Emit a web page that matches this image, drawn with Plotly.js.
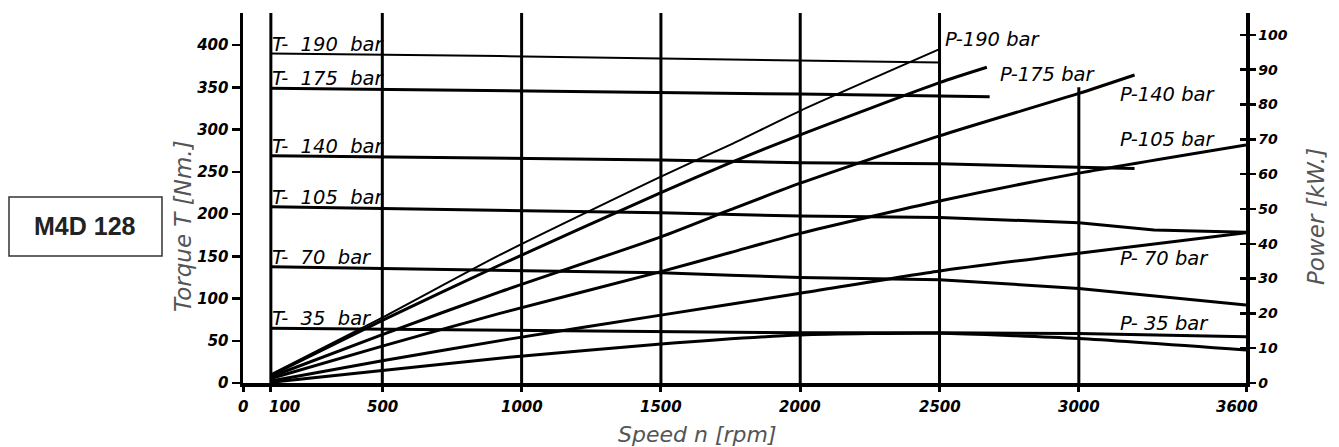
<!DOCTYPE html>
<html>
<head>
<meta charset="utf-8">
<script src="https://cdn.plot.ly/plotly-3.0.1.min.js"></script>
<style>html,body{margin:0;padding:0;background:#fff;}#chart{width:1339px;height:447px;}</style>
</head>
<body>
<div id="chart"></div>
<script>
// ---------- data ----------
// Torque curves (left axis, Nm) vs speed (rpm)
const rpmT190 = [100, 922, 1500, 2000, 2500];
const torque190 = [390, 387, 384, 382, 379.5];
const rpmT175 = [100, 922, 1500, 2000, 2500, 2680];
const torque175 = [349, 346, 344.4, 342, 339.6, 338.8];
const rpmT140 = [100, 922, 1500, 2000, 2500, 3000, 3200];
const torque140 = [269, 266, 264, 260.7, 259.5, 255.3, 254];
const rpmT105 = [100, 922, 1500, 2000, 2500, 3000, 3270, 3600];
const torque105 = [208.6, 204, 201.6, 197.6, 196, 189.7, 181, 178.5];
const rpmT70 = [100, 922, 1500, 1750, 2000, 2500, 3000, 3600];
const torque70 = [137.6, 133, 130.5, 127.5, 125, 122.3, 112, 92.3];
const rpmT35 = [100, 922, 1500, 2000, 2500, 3000, 3600];
const torque35 = [64.7, 62.7, 60.7, 59.5, 59.5, 58.5, 54.8];

// Power curves (right axis, kW) vs speed (rpm)
const rpmP190 = [100, 500, 922, 1500, 1750, 2000, 2500];
const power190 = [2.5, 18.8, 36.8, 59.3, 68.5, 78.2, 95.9];
const rpmP175 = [100, 500, 922, 1500, 1750, 2000, 2500, 2670];
const power175 = [2.2, 18, 33.9, 54.7, 63.3, 71.3, 86.3, 90.7];
const rpmP140 = [100, 500, 922, 1500, 1750, 2000, 2500, 3000, 3200];
const power140 = [1.8, 13.9, 26.2, 42, 49.8, 57.4, 71, 83.2, 88.5];
const rpmP105 = [100, 500, 922, 1500, 1750, 2000, 2500, 3000, 3600];
const power105 = [1.3, 10.6, 20, 32, 37.5, 43, 52.3, 60.3, 68.4];
const rpmP70 = [100, 500, 955, 1500, 2000, 2500, 3000, 3600];
const power70 = [0.6, 6.4, 12.6, 19.5, 25.8, 32.2, 37.3, 43.2];
const rpmP35 = [100, 500, 955, 1500, 2000, 2500, 3000, 3600];
const power35 = [0.2, 3.6, 7.4, 11.2, 13.8, 14.3, 12.8, 9.5];

// Axis ticks
const speedTicks = [0, 100, 500, 1000, 1500, 2000, 2500, 3000, 3600];
const speedTickText = ['0', '100', '500', '1000', '1500', '2000', '2500', '3000', '3600'];
const torqueTicks = [0, 50, 100, 150, 200, 250, 300, 350, 400];
const powerTicks = [0, 10, 20, 30, 40, 50, 60, 70, 80, 90, 100];
const gridSpeeds = [100, 500, 1000, 1500, 2000, 2500];
const partialGridSpeed = 3000;
const partialGridTop = 85; // kW

// Labels
const torqueLabels = ['T-\u00a0 190\u00a0 bar', 'T-\u00a0 175\u00a0 bar', 'T-\u00a0 140\u00a0 bar', 'T-\u00a0 105\u00a0 bar', 'T-\u00a0 70\u00a0 bar', 'T-\u00a0 35\u00a0 bar'];
const powerLabels = ['P-190 bar', 'P-175 bar', 'P-140 bar', 'P-105 bar', 'P-\u00a070 bar', 'P-\u00a035 bar'];
const powerLabelRpm = [2512, 2710, 3141, 3141, 3141, 3141];
const powerLabelKw = [98.6, 88.5, 82.8, 70.1, 35.8, 17.2];

// ---------- traces ----------
const torqueSeries = [[rpmT190, torque190, 2], [rpmT175, torque175, 3], [rpmT140, torque140, 3], [rpmT105, torque105, 3], [rpmT70, torque70, 3], [rpmT35, torque35, 3]];
const powerSeries = [[rpmP190, power190, 2], [rpmP175, power175, 3], [rpmP140, power140, 3], [rpmP105, power105, 3], [rpmP70, power70, 3], [rpmP35, power35, 3]];

const traces = [];
torqueSeries.forEach((s, i) => {
  traces.push({x: s[0], y: s[1], type: 'scatter', mode: 'lines', yaxis: 'y', name: torqueLabels[i],
    line: {color: '#000', width: s[2]}, hoverinfo: 'x+y'});
});
powerSeries.forEach((s, i) => {
  traces.push({x: s[0], y: s[1], type: 'scatter', mode: 'lines', yaxis: 'y2', name: powerLabels[i],
    line: {color: '#000', width: s[2], shape: 'spline', smoothing: 0.6}, hoverinfo: 'x+y'});
});
// invisible trace so the inner half of the right-axis ticks is drawn
traces.push({x: [0], y: [0], yaxis: 'y3', mode: 'markers', marker: {opacity: 0}, hoverinfo: 'skip', showlegend: false});

// ---------- layout ----------
const L = 243, R = 1246, T = 13, B = 383;
const px2paperX = p => (p - L) / (R - L);
const px2paperY = p => (B - p) / (B - T);

const tickFontL = {family: 'DejaVu Sans', size: 15, color: '#000', weight: 'bold', style: 'italic'};
const tickFontX = {family: 'DejaVu Sans', size: 15, color: '#000', weight: 'bold', style: 'italic'};
const tickFontR = {family: 'DejaVu Sans', size: 14, color: '#000', weight: 'bold', style: 'italic'};
const labelFont = {family: 'DejaVu Sans', size: 19.5, color: '#000', style: 'italic'};
const titleFont = {family: 'DejaVu Sans', size: 23, color: '#555', style: 'italic', weight: 300};
const titleFontX = {family: 'DejaVu Sans', size: 22, color: '#555', style: 'italic', weight: 300};
// horizontal nudges (px) of the speed tick labels, as drawn in the reference
const speedLabelShift = [0, 14, 0, 0, 0, 0, 0, 0, -9];

const shapes = gridSpeeds.map(r => ({type: 'line', xref: 'x', yref: 'paper', x0: r, x1: r, y0: 0, y1: 1,
  line: {color: '#000', width: 3}}));
shapes.push({type: 'line', xref: 'x', yref: 'y2', x0: partialGridSpeed, x1: partialGridSpeed, y0: 0, y1: partialGridTop,
  line: {color: '#000', width: 3}});
shapes.push({type: 'rect', xref: 'paper', yref: 'paper', x0: px2paperX(9), x1: px2paperX(162), y0: px2paperY(256), y1: px2paperY(197),
  line: {color: '#333', width: 1.5}, fillcolor: 'rgba(0,0,0,0)'});

const annotations = [];
speedTicks.forEach((v, i) => {
  annotations.push({text: speedTickText[i], x: v, y: px2paperY(407), xref: 'x', yref: 'paper',
    xanchor: 'center', yanchor: 'middle', xshift: speedLabelShift[i], showarrow: false, font: tickFontX});
});
torqueLabels.forEach((t, i) => {
  annotations.push({text: t, x: torqueSeries[i][0][0], y: torqueSeries[i][1][0], xref: 'x', yref: 'y',
    xanchor: 'left', yanchor: 'bottom', yshift: -4, xshift: -1, showarrow: false, font: labelFont});
});
powerLabels.forEach((t, i) => {
  annotations.push({text: t, x: powerLabelRpm[i], y: powerLabelKw[i], xref: 'x', yref: 'y2',
    xanchor: 'left', yanchor: 'middle', showarrow: false, font: labelFont});
});
annotations.push({text: 'Torque T [Nm.]', xref: 'paper', yref: 'paper', x: px2paperX(183), y: px2paperY(226),
  xanchor: 'center', yanchor: 'middle', textangle: -90, showarrow: false, font: titleFont});
annotations.push({text: 'Power [kW.]', xref: 'paper', yref: 'paper', x: px2paperX(1316), y: px2paperY(217),
  xanchor: 'center', yanchor: 'middle', textangle: -90, showarrow: false, font: titleFont});
annotations.push({text: 'Speed n [rpm]', xref: 'paper', yref: 'paper', x: px2paperX(697), y: px2paperY(434),
  xanchor: 'center', yanchor: 'middle', showarrow: false, font: titleFontX});
annotations.push({text: '<b>M4D 128</b>', xref: 'paper', yref: 'paper', x: px2paperX(85), y: px2paperY(226),
  xanchor: 'center', yanchor: 'middle', showarrow: false,
  font: {family: 'Liberation Sans, Arial, sans-serif', size: 25, color: '#222'}});

const layout = {
  width: 1339, height: 447,
  margin: {l: L, r: 1339 - R, t: T, b: 447 - B},
  paper_bgcolor: '#fff', plot_bgcolor: '#fff',
  showlegend: false,
  xaxis: {range: [0, 3600], tickmode: 'array', tickvals: speedTicks, showticklabels: false,
    showgrid: false, zeroline: false, showline: true, linecolor: '#000', linewidth: 3.5,
    ticks: 'outside', ticklen: 5, tickwidth: 3, tickcolor: '#000', fixedrange: true},
  yaxis: {range: [0, 438], tickmode: 'array', tickvals: torqueTicks,
    showgrid: false, zeroline: false, showline: true, linecolor: '#000', linewidth: 3.5,
    ticks: 'outside', ticklen: 8, tickwidth: 2.5, tickcolor: '#000', tickfont: tickFontL, fixedrange: true},
  yaxis2: {range: [0, 106.3], overlaying: 'y', side: 'right', anchor: 'x', tickmode: 'array', tickvals: powerTicks,
    showgrid: false, zeroline: false, showline: true, linecolor: '#000', linewidth: 3.5,
    ticks: 'outside', ticklen: 6, tickwidth: 2.5, tickcolor: '#000', tickfont: tickFontR, fixedrange: true},
  yaxis3: {range: [0, 106.3], overlaying: 'y', side: 'right', anchor: 'x', tickmode: 'array', tickvals: powerTicks,
    showgrid: false, zeroline: false, showline: false, showticklabels: false,
    ticks: 'inside', ticklen: 6, tickwidth: 2.5, tickcolor: '#000', fixedrange: true},
  shapes: shapes,
  annotations: annotations
};

Plotly.newPlot('chart', traces, layout, {displayModeBar: false, staticPlot: true});
</script>
</body>
</html>
